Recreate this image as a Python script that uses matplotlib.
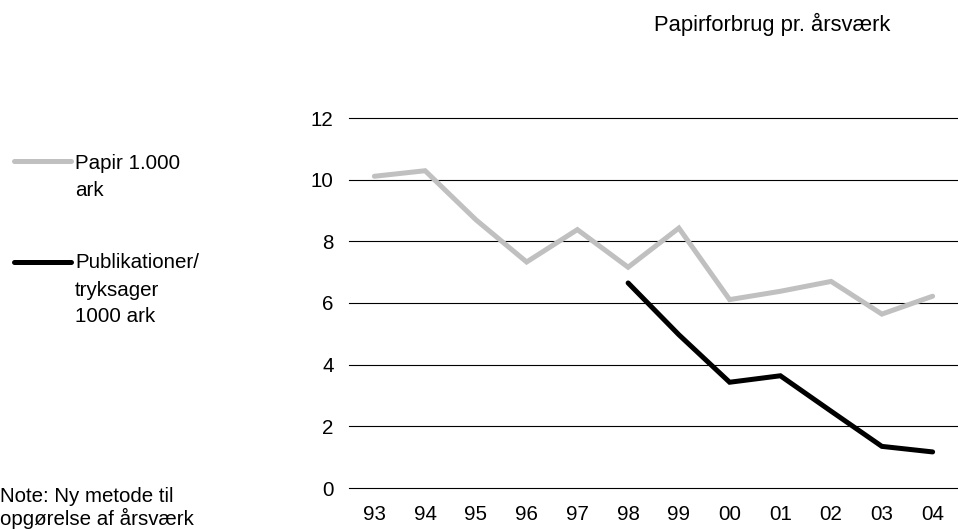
import numpy as np
import matplotlib
matplotlib.use("Agg")
import matplotlib.pyplot as plt
from matplotlib.lines import Line2D

years = ["93", "94", "95", "96", "97", "98", "99", "00", "01", "02", "03", "04"]
papir = [10.11, 10.29, 8.70, 7.33, 8.38, 7.16, 8.43, 6.11, 6.38, 6.70, 5.64, 6.22]
publikationer = [np.nan, np.nan, np.nan, np.nan, np.nan, 6.65, 4.97, 3.43, 3.64, 2.49, 1.35, 1.17]
yticks = [0, 2, 4, 6, 8, 10, 12]

plt.rcParams['font.family'] = ['Liberation Sans', 'DejaVu Sans']
FS = 14.8
LW = 3.6

W, H = 958, 529
fig = plt.figure(figsize=(W / 100, H / 100), dpi=100)
ax = fig.add_axes([349 / W, 1 - 488 / H, 1 - 349 / W, (488 - 118) / H])

x = np.arange(len(years))
ax.plot(x, papir, color="#c0c0c0", lw=LW, solid_capstyle="round", solid_joinstyle="miter", zorder=3)
ax.plot(x, publikationer, color="black", lw=LW, solid_capstyle="round", solid_joinstyle="miter", zorder=4)

ax.set_xlim(-0.5, len(years) - 0.5)
ax.set_ylim(0, 12)
ax.set_yticks(yticks)
ax.set_yticklabels([str(v) for v in yticks])
ax.set_xticks(x)
ax.set_xticklabels(years)
for s in ax.spines.values():
    s.set_visible(False)
ax.tick_params(axis="both", length=0, labelsize=FS, colors="black")
ax.tick_params(axis="y", pad=11)
ax.tick_params(axis="x", pad=12)
for v in yticks:
    ax.axhline(v, color="black", lw=0.8, zorder=1, clip_on=False)

def fx(px):
    return px / W

def fy(py):
    return 1 - py / H

fig.text(fx(772), fy(24), "Papirforbrug pr. årsværk", ha="center", va="center", fontsize=15.8)

# legend
fig.add_artist(Line2D([fx(14), fx(71)], [fy(161), fy(161)], color="#c0c0c0", lw=LW, solid_capstyle="round"))
fig.text(fx(75), fy(163), "Papir 1.000", ha="left", va="center", fontsize=FS)
fig.text(fx(75), fy(190), "ark", ha="left", va="center", fontsize=FS)
fig.add_artist(Line2D([fx(14), fx(71)], [fy(262), fy(262)], color="black", lw=LW, solid_capstyle="round"))
fig.text(fx(75), fy(263), "Publikationer/", ha="left", va="center", fontsize=FS)
fig.text(fx(75), fy(290), "tryksager", ha="left", va="center", fontsize=FS)
fig.text(fx(75), fy(317), "1000 ark", ha="left", va="center", fontsize=FS)

fig.text(fx(0), fy(496), "Note: Ny metode til", ha="left", va="center", fontsize=FS)
fig.text(fx(0), fy(518), "opgørelse af årsværk", ha="left", va="center", fontsize=FS)

fig.savefig("out.png", dpi=100)
